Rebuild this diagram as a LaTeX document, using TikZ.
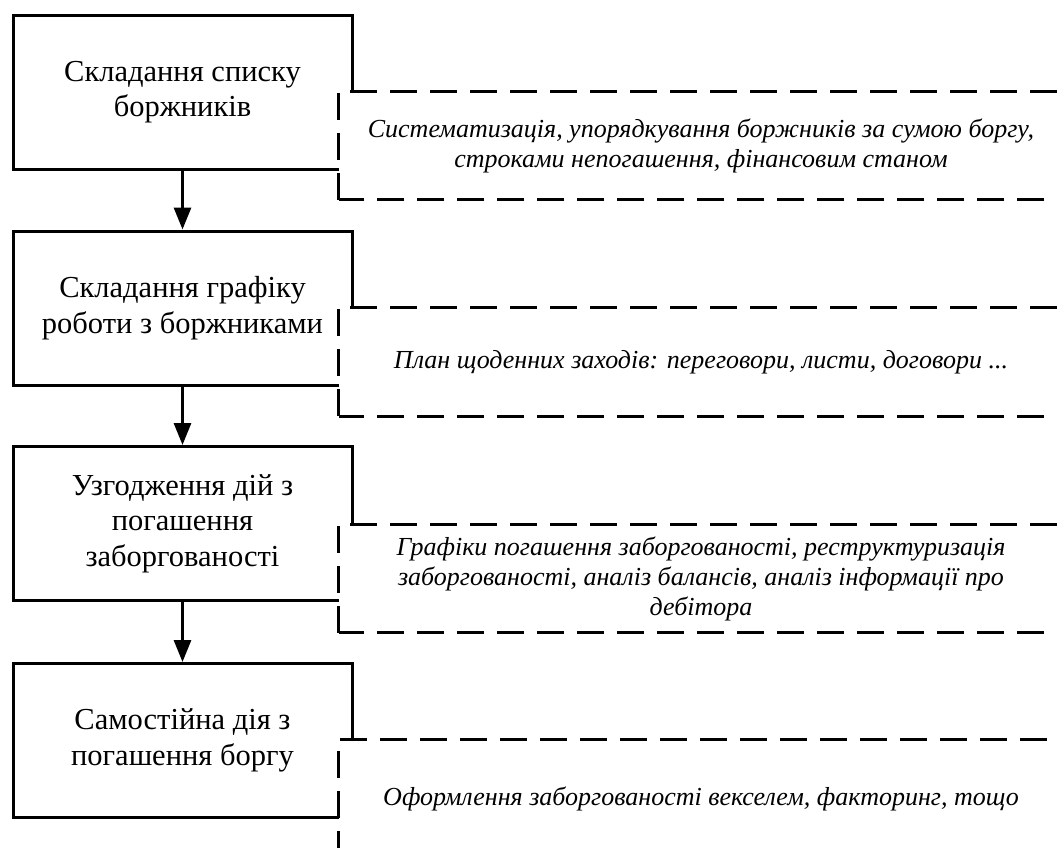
\documentclass[tikz,border=0pt]{standalone}
\usepackage{fontspec}
\setmainfont{Liberation Serif}
\usetikzlibrary{arrows.meta}
\begin{document}
\begin{tikzpicture}[x=1pt,y=-1pt,
  stepbox/.style={draw, line width=3pt, fill=white, minimum width=339pt, minimum height=154pt, align=center, inner sep=0pt, font=\fontsize{30.5}{35.5}\selectfont},
  notebox/.style={fill=white, minimum width=724pt, minimum height=108pt, align=center, inner sep=0pt, font=\fontsize{26}{30}\selectfont\itshape},
  dashline/.style={line width=3pt, dash pattern=on 27pt off 13pt},
  flow/.style={line width=3pt, -{Triangle[length=22pt,width=17pt]}}
]
\useasboundingbox (0,0) rectangle (1057,847);
\clip (0,0) rectangle (1057,847);

\node[stepbox] (s1) at (182.5,92) {Складання списку\\боржників};
\node[stepbox] (s2) at (182.5,308) {Складання графіку\\роботи з боржниками};
\node[stepbox] (s3) at (182.5,523.5) {Узгодження дій з\\погашення\\заборгованості};
\node[stepbox] (s4) at (182.5,740.5) {Самостійна дія з\\погашення боргу};

\node[notebox] (n1) at (701,145.5) {Систематизація, упорядкування боржників за сумою боргу,\\строками непогашення, фінансовим станом};
\node[notebox] (n2) at (701,362) {План щоденних заходів: переговори, листи, договори ...};
\node[notebox] (n3) at (701,578.5) {Графіки погашення заборгованості, реструктуризація\\заборгованості, аналіз балансів, аналіз інформації про\\дебітора};
\node[notebox, minimum height=118pt] (n4) at (701,799) {Оформлення заборгованості векселем, факторинг, тощо};

\foreach \n in {n1,n2,n3,n4}{
  \draw[dashline] (\n.south west) -- (\n.north west) -- (\n.north east) -- (\n.south east) -- cycle;
}

\draw[flow] (s1.south) -- (s2.north);
\draw[flow] (s2.south) -- (s3.north);
\draw[flow] (s3.south) -- (s4.north);
\end{tikzpicture}
\end{document}
